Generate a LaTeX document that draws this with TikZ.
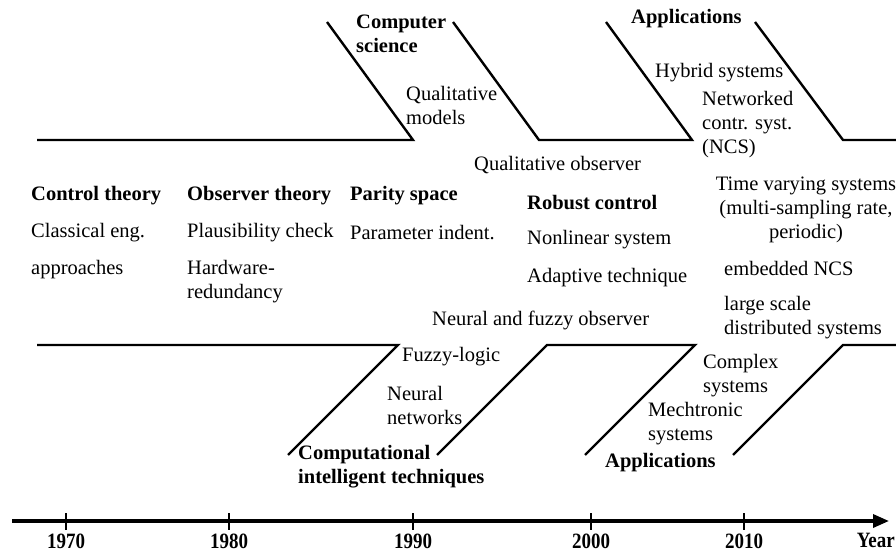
\documentclass[tikz,border=0pt]{standalone}
\usepackage{fontspec}
\setmainfont{Liberation Serif}
\usetikzlibrary{arrows.meta}
\begin{document}
\begin{tikzpicture}[x=1pt,y=-1pt,
  branch/.style={line width=2.4pt, line join=miter},
  axisline/.style={line width=3.4pt, -{Triangle[length=16pt,width=13pt]}},
  tickline/.style={line width=2.6pt},
  lbl/.style={inner sep=0pt, anchor=west, align=left, font=\fontsize{20.5}{24}\selectfont},
  blbl/.style={lbl, font=\fontsize{20.5}{24}\selectfont\bfseries},
  yr/.style={inner sep=0pt, font=\fontsize{19}{20}\selectfont\bfseries}]
\useasboundingbox (0,0) rectangle (896,553);
% top branches
\coordinate (a1) at (37,140); \coordinate (a2) at (413,140); \coordinate (a3) at (327,22);
\coordinate (b1) at (453,22); \coordinate (b2) at (539,140); \coordinate (b3) at (692,140); \coordinate (b4) at (606,22);
\coordinate (c1) at (755,22); \coordinate (c2) at (843,140); \coordinate (c3) at (896,140);
\draw[branch] (a1) -- (a2) -- (a3);
\draw[branch] (b1) -- (b2) -- (b3) -- (b4);
\draw[branch] (c1) -- (c2) -- (c3);
% bottom branches
\coordinate (d1) at (37,345); \coordinate (d2) at (398,345); \coordinate (d3) at (288,455);
\coordinate (e1) at (437,455); \coordinate (e2) at (547,345); \coordinate (e3) at (695,345); \coordinate (e4) at (585,455);
\coordinate (f1) at (733,455); \coordinate (f2) at (843,345); \coordinate (f3) at (896,345);
\draw[branch] (d1) -- (d2) -- (d3);
\draw[branch] (e1) -- (e2) -- (e3) -- (e4);
\draw[branch] (f1) -- (f2) -- (f3);
% axis
\coordinate (ax0) at (12,521); \coordinate (ax1) at (889,521);
\draw[axisline] (ax0) -- (ax1);
\foreach \x/\t in {66/1970,229/1980,413/1990,591/2000,744/2010}{
  \coordinate (t\t) at (\x,521);
  \draw[tickline] ([yshift=-8.5pt]t\t) -- ([yshift=8.5pt]t\t);
  \node[yr] (y\t) at (\x,541) {\scalebox{1}[1.15]{\t}};
}
\node[yr, anchor=east] (year) at (895,540) {\scalebox{1}[1.15]{Year}};
% texts top
\node[blbl] (cs) at (356,34) {Computer\\science};
\node[lbl] (qm) at (406,105) {Qualitative\\models};
\node[blbl] (app1) at (631,19) {Applications};
\node[lbl] (hyb) at (655,73) {Hybrid systems};
\node[lbl] (ncs) at (702,125) {Networked\\contr. syst.\\(NCS)};
\node[lbl] (qo) at (474,165) {Qualitative observer};
% middle
\node[blbl] (ct) at (31,196) {Control theory};
\node[blbl] (ot) at (187,196) {Observer theory};
\node[blbl] (ps) at (350,196) {Parity space};
\node[blbl] (rc) at (527,203) {Robust control};
\node[lbl] (ce) at (31,233) {Classical eng.};
\node[lbl] (ap) at (31,270) {approaches};
\node[lbl] (pc) at (187,233) {Plausibility check};
\node[lbl] (hw) at (187,281.5) {Hardware-\\redundancy};
\node[lbl] (pi) at (350,233) {Parameter indent.};
\node[lbl] (nl) at (527,240) {Nonlinear system};
\node[lbl] (at) at (527,278) {Adaptive technique};
\node[lbl] (nf) at (432,320) {Neural and fuzzy observer};
\node[lbl, anchor=center, align=center] (tv) at (806,210) {Time varying systems\\(multi-sampling rate,\\periodic)};
\node[lbl] (emb) at (724,268) {embedded NCS};
\node[lbl] (lss) at (724,318) {large scale\\distributed systems};
% bottom
\node[lbl] (fl) at (402,357) {Fuzzy-logic};
\node[lbl] (nn) at (387,405) {Neural\\networks};
\node[blbl] (cit) at (298,467) {Computational\\intelligent techniques};
\node[lbl] (cx) at (703,376) {Complex\\systems};
\node[lbl] (mech) at (648,424) {Mechtronic\\systems};
\node[blbl] (app2) at (605,463) {Applications};
\end{tikzpicture}
\end{document}
